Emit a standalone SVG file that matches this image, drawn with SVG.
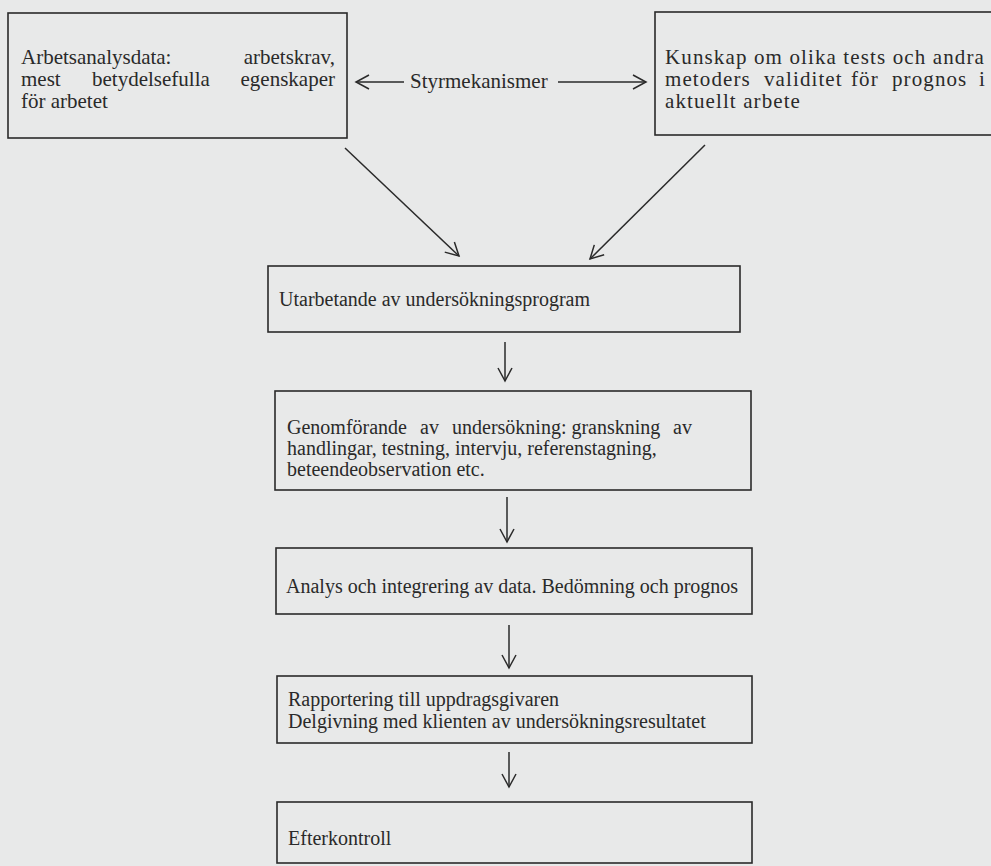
<svg xmlns="http://www.w3.org/2000/svg" width="991" height="866" viewBox="0 0 991 866">
<style>
.bg{fill:#e8e9e9}
.box{fill:none;stroke:#2a2a2a;stroke-width:1.6}
.t{font-family:"Liberation Serif","Times New Roman",serif;font-size:20px;fill:#2a2a2a}
.l{font-size:21px}
.r{font-size:21px;letter-spacing:1.1px}
.e{text-anchor:end}
.c{fill:none;stroke:#2a2a2a;stroke-width:1.5}
</style>
<defs>
<marker id="ah" markerUnits="userSpaceOnUse" markerWidth="18" markerHeight="18" viewBox="0 0 18 18" refX="16" refY="9" orient="auto">
<path d="M3,2 L16,9 L3,16" fill="none" stroke="#2a2a2a" stroke-width="1.5"/>
</marker>
</defs>
<rect class="bg" x="0" y="0" width="991" height="866"/>

<g id="n1">
<rect class="box" x="8" y="13" width="339" height="125"/>
<text class="t l" x="21" y="64">Arbetsanalysdata:</text>
<text class="t l e" x="335" y="64">arbetskrav,</text>
<text class="t l" x="21" y="86">mest</text>
<text class="t l" x="92" y="86">betydelsefulla</text>
<text class="t l e" x="335" y="86">egenskaper</text>
<text class="t l" x="21" y="108">för arbetet</text>
</g>

<g id="n2">
<rect class="box" x="655" y="12" width="345" height="123"/>
<text class="t r" x="665" y="64" textLength="320" lengthAdjust="spacing">Kunskap om olika tests och andra</text>
<text class="t r" x="665" y="86">metoders</text>
<text class="t r" x="764" y="86">validitet</text>
<text class="t r" x="851" y="86">för</text>
<text class="t r" x="892" y="86">prognos</text>
<text class="t r e" x="986" y="86">i</text>
<text class="t r" x="665" y="108">aktuellt arbete</text>
</g>

<g id="n3">
<rect class="box" x="268" y="266" width="472" height="66"/>
<text class="t" x="279" y="306">Utarbetande av undersökningsprogram</text>
</g>

<g id="n4">
<rect class="box" x="275" y="391" width="476" height="99"/>
<text class="t" x="287" y="434">Genomförande</text>
<text class="t" x="420" y="434">av</text>
<text class="t" x="452" y="434">undersökning: granskning</text>
<text class="t e" x="692" y="434">av</text>
<text class="t" x="287" y="455">handlingar, testning, intervju, referenstagning,</text>
<text class="t" x="287" y="476">beteendeobservation etc.</text>
</g>

<g id="n5">
<rect class="box" x="276" y="548" width="476" height="66"/>
<text class="t" x="286" y="593">Analys och integrering av data. Bedömning och prognos</text>
</g>

<g id="n6">
<rect class="box" x="277" y="676" width="475" height="67"/>
<text class="t" x="288" y="706">Rapportering till uppdragsgivaren</text>
<text class="t" x="288" y="728">Delgivning med klienten av undersökningsresultatet</text>
</g>

<g id="n7">
<rect class="box" x="277" y="802" width="475" height="61"/>
<text class="t" x="288" y="845">Efterkontroll</text>
</g>

<g id="connectors">
<line class="c" x1="404" y1="82" x2="356" y2="82" marker-end="url(#ah)"/>
<text class="t" x="410" y="88" style="font-size:21px">Styrmekanismer</text>
<line class="c" x1="558" y1="82" x2="646" y2="82" marker-end="url(#ah)"/>
<line class="c" x1="345" y1="148" x2="459" y2="256" marker-end="url(#ah)"/>
<line class="c" x1="705" y1="145" x2="590" y2="259" marker-end="url(#ah)"/>
<line class="c" x1="505" y1="342" x2="505" y2="381" marker-end="url(#ah)"/>
<line class="c" x1="507" y1="497" x2="507" y2="542" marker-end="url(#ah)"/>
<line class="c" x1="509" y1="625" x2="509" y2="668" marker-end="url(#ah)"/>
<line class="c" x1="509" y1="752" x2="509" y2="787" marker-end="url(#ah)"/>
</g>
</svg>
